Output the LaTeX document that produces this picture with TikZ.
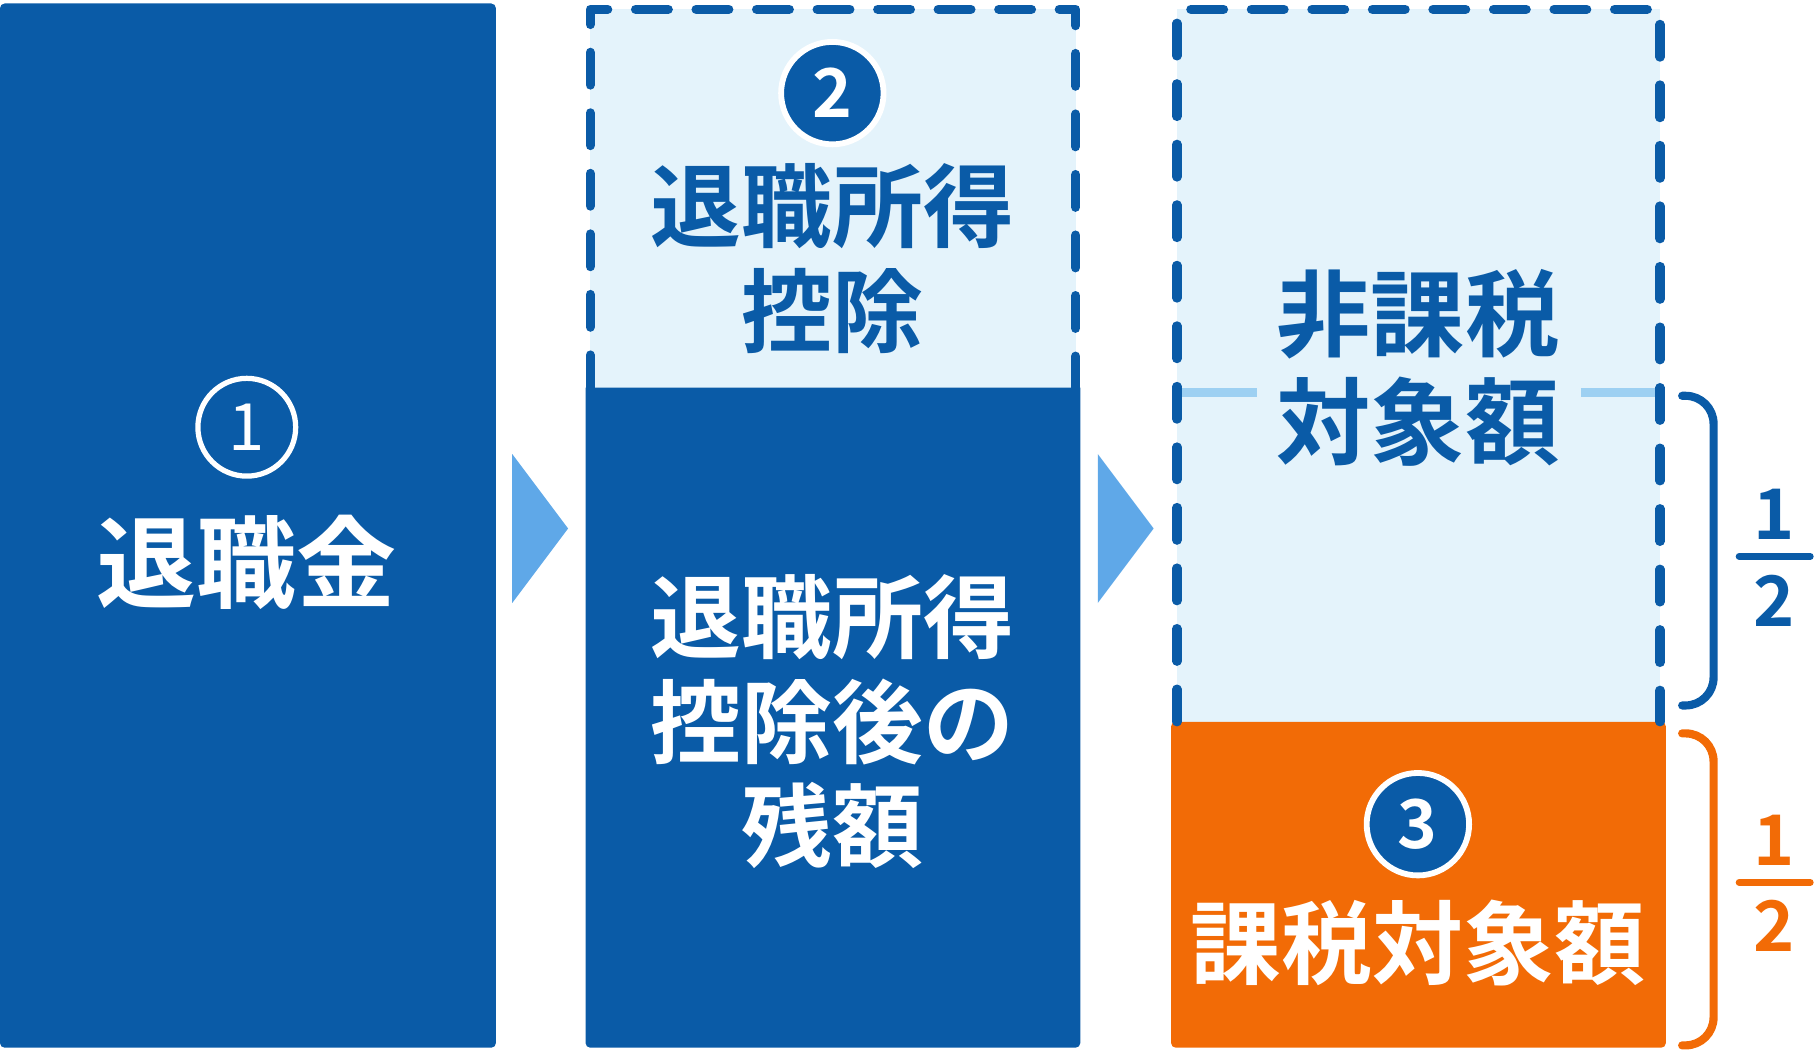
\documentclass[tikz,border=0pt]{standalone}
\usepackage{fontspec}
\newfontfamily\jpfont{Noto Sans CJK JP}[BoldFont=* Bold]
\definecolor{darkblue}{RGB}{10,91,167}
\definecolor{paleblue}{RGB}{228,243,251}
\definecolor{arrowblue}{RGB}{95,168,232}
\definecolor{lineblue}{RGB}{157,208,242}
\definecolor{taxorange}{RGB}{242,107,6}
\tikzset{every picture/.style={line width=0.75pt}}
\tikzset{
  dashborder/.style={draw=darkblue, line width=8pt, line cap=round, line join=round, dash pattern=on 28pt off 24pt},
  bigtext/.style={font=\jpfont\bfseries\fontsize{78}{90}\selectfont, align=center, inner sep=0pt},
  numcircle/.style={circle, fill=darkblue, draw=white, line width=5pt, minimum size=88pt, inner sep=0pt, text=white, font=\jpfont\bfseries\fontsize{58}{58}\selectfont},
  bracket/.style={line width=7pt, line cap=round, rounded corners=24pt},
  fracnum/.style={font=\jpfont\bfseries\fontsize{60}{60}\selectfont, inner sep=0pt},
}

\begin{document}
\begin{tikzpicture}[x=1pt,y=1pt,yscale=-1,xscale=1]
\useasboundingbox (0,0) rectangle (1560,902);

%Shape: Rectangle [left column]
\fill[darkblue, rounded corners=4pt] (0,3) rectangle (426,900);
%Shape: Triangle [first arrow]
\fill[arrowblue] (440,390) -- (488,454) -- (440,518) -- cycle;

%Shape: Rectangle [middle column]
\fill[paleblue] (507,8) rectangle (924,333);
\fill[darkblue] (503,333) -- (503,896) [rounded corners=4pt] -- (503,900) -- (928,900) [sharp corners] -- (928,333) -- cycle;
\draw[dashborder] (507,333) -- (507,8) -- (924,8) -- (924,333);
%Shape: Triangle [second arrow]
\fill[arrowblue] (943,390) -- (991,454) -- (943,518) -- cycle;

%Shape: Rectangle [right column]
\fill[paleblue] (1011,8) rectangle (1426,620);
\fill[taxorange, rounded corners=4pt] (1006,620) rectangle (1431,900);
%Straight Lines [half line]
\draw[lineblue, line width=8pt] (1015,337) -- (1080,337);
\draw[lineblue, line width=8pt] (1358,337) -- (1424,337);
\draw[dashborder] (1011,620) -- (1011,8) -- (1426,8) -- (1426,620);

%Shape: Brackets
\draw[bracket, darkblue] (1445,340) -- (1472,340) -- (1472,606) -- (1445,606);
\draw[bracket, taxorange] (1445,630) -- (1472,630) -- (1472,898) -- (1445,898);

%Shape: Circles
\node[circle, draw=white, line width=4.5pt, minimum size=84pt, inner sep=0pt, text=white, font=\jpfont\fontsize{56}{56}\selectfont] (num1) at (212,367) {1};
\node[numcircle] (num2) at (715,80) {2};
\node[numcircle] (num3) at (1218,708) {3};

% Text Node
\node[bigtext, text=white, font=\jpfont\bfseries\fontsize{86}{90}\selectfont] (taishokukin) at (212,483) {退職金};
\node[bigtext, text=darkblue] (kojo) at (715,222) {退職所得\\控除};
\node[bigtext, text=white] (zangaku) at (715,620) {退職所得\\控除後の\\残額};
\node[bigtext, text=darkblue, font=\jpfont\bfseries\fontsize{81}{92}\selectfont] (hikazei) at (1218,316) {非課税\\対象額};
\node[bigtext, text=white] (kazei) at (1218,810) {課税対象額};

% Fractions
\node[fracnum, text=darkblue] (halfAtop) at (1524,442) {1};
\node[fracnum, text=darkblue] (halfAbot) at (1524,516) {2};
\draw[darkblue, line width=6pt, line cap=round] (1494,478) -- (1555,478);
\node[fracnum, text=taxorange] (halfBtop) at (1524,722) {1};
\node[fracnum, text=taxorange] (halfBbot) at (1524,795) {2};
\draw[taxorange, line width=6pt, line cap=round] (1494,758) -- (1555,758);

\end{tikzpicture}
\end{document}
